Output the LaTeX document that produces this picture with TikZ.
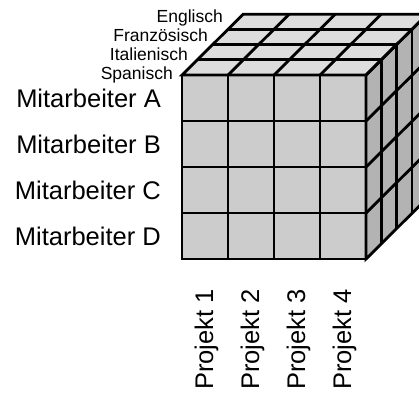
\documentclass[tikz,border=0pt]{standalone}
\usepackage{fontspec}
\setmainfont{Liberation Sans}
\definecolor{topc}{HTML}{DDDDDD}
\definecolor{frontc}{HTML}{CCCCCC}
\definecolor{sidec}{HTML}{B3B3B3}
\begin{document}
\begin{tikzpicture}[x=1pt,y=-1pt,
  edge/.style={line width=2.8pt, draw=black, line join=miter},
  big/.style={font=\fontsize{25.5}{30}\selectfont, inner sep=0pt},
  small/.style={font=\fontsize{17.5}{20}\selectfont, inner sep=0pt}]
\useasboundingbox (0,0) rectangle (419,392);
\begin{scope}
\clip (0,0) rectangle (419,392);
% faces
\fill[topc] (182,75) -- (366,75) -- (427.2,14.2) -- (243.2,14.2) -- cycle;
\fill[sidec] (366,75) -- (427.2,14.2) -- (427.2,198.2) -- (366,259) -- cycle;
\fill[frontc] (182,75) rectangle (366,259);
% grid lines
\foreach \i in {1,2,3} {
  \draw[edge] (182+\i*46,75) -- (182+\i*46,259);
  \draw[edge] (182,75+\i*46) -- (366,75+\i*46);
  \draw[edge] (182+\i*46,75) -- ++(61.2,-60.8);
  \draw[edge] (182+\i*15.3,75-\i*15.2) -- ++(184,0);
  \draw[edge] (366+\i*15.3,75-\i*15.2) -- ++(0,184);
  \draw[edge] (366,75+\i*46) -- ++(61.2,-60.8);
}
% outlines
\draw[edge] (182,75) -- (366,75) -- (427.2,14.2) -- (243.2,14.2) -- cycle;
\draw[edge] (366,75) -- (427.2,14.2) -- (427.2,198.2) -- (366,259) -- cycle;
\draw[edge] (182,75) rectangle (366,259);
\end{scope}
% labels
\node[big, anchor=base east] (mA) at (161,107) {Mitarbeiter A};
\node[big, anchor=base east] (mB) at (161,153) {Mitarbeiter B};
\node[big, anchor=base east] (mC) at (161,199) {Mitarbeiter C};
\node[big, anchor=base east] (mD) at (161,245) {Mitarbeiter D};
\node[small, anchor=base east] (en) at (223,22) {Englisch};
\node[small, anchor=base east] (fr) at (208,41) {Französisch};
\node[small, anchor=base east] (it) at (188,60) {Italienisch};
\node[small, anchor=base east] (sp) at (173,79) {Spanisch};
\node[big, rotate=90, anchor=base west] (p1) at (213,390) {Projekt 1};
\node[big, rotate=90, anchor=base west] (p2) at (259,390) {Projekt 2};
\node[big, rotate=90, anchor=base west] (p3) at (305,390) {Projekt 3};
\node[big, rotate=90, anchor=base west] (p4) at (351,390) {Projekt 4};
\end{tikzpicture}
\end{document}
